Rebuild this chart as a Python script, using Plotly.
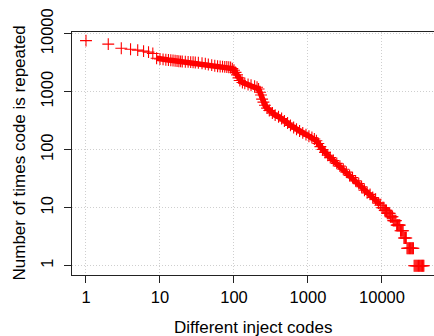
import plotly.graph_objects as go

# Head of the rank-frequency curve (distinct markers)
ranks_head = [1, 2, 3, 4, 5, 6, 7, 8]
counts_head = [7600, 6600, 5600, 5400, 5200, 5000, 4800, 4550]

# Dense body of the curve
ranks_body = [9, 10, 11, 12, 13, 14, 15, 16, 17, 18, 19, 20, 22, 24, 26, 28, 30, 33, 37, 41,
              45, 50, 55, 60, 65, 70, 75, 80, 85, 90, 95, 100, 105, 110, 115, 120, 130, 140,
              155, 170, 190, 205, 215, 225, 232, 240, 250, 262, 280, 300, 330, 360, 400, 440,
              480, 530, 580, 640, 700, 770, 850, 940, 1030, 1130, 1220, 1300, 1380, 1470,
              1570, 1700, 1850, 2000, 2200, 2450, 2700, 3000, 3300, 3650, 4000, 4400, 4850,
              5300, 5800, 6300, 6900, 7500, 8200, 9000, 9500]
counts_body = [3780, 3650, 3600, 3560, 3520, 3480, 3440, 3410, 3380, 3350, 3330, 3310, 3280,
               3260, 3240, 3210, 3190, 3150, 3090, 3030, 2950, 2870, 2800, 2750, 2720, 2700,
               2680, 2660, 2640, 2610, 2500, 2340, 2150, 1950, 1730, 1560, 1440, 1390, 1330,
               1290, 1240, 1190, 1110, 980, 875, 745, 660, 585, 520, 475, 430, 395, 370, 345,
               312, 288, 263, 241, 225, 210, 195, 182, 171, 162, 153, 143, 128, 113, 101, 90,
               80, 73, 65, 58, 52, 46, 41, 36, 33, 29, 26, 23, 20, 18, 17, 15, 14, 12, 11]

# Tail: codes repeated only a few times
ranks_tail = [10000, 10300, 10600,
              10900, 11200, 11500,
              11800, 12100, 12400, 12700,
              13000, 13300, 13600, 13900,
              14200, 14600, 15000, 15400,
              15800, 16200, 16600, 17000, 17400,
              17800, 18300, 18800, 19300,
              19800, 20300, 20800, 21300,
              21800, 22400, 23000, 23600, 24200, 24800, 25400, 26000, 26600,
              27200, 28000, 28800, 29600, 30400, 31200, 32000, 32800, 33600, 34400,
              35200, 36000, 36800]
counts_tail = [10, 10, 10,
               9, 9, 9,
               8, 8, 8, 8,
               7, 7, 7, 7,
               6, 6, 6, 6,
               5, 5, 5, 5, 5,
               4, 4, 4, 4,
               3, 3, 3, 3,
               2, 2, 2, 2, 2, 2, 2, 2, 2,
               1, 1, 1, 1, 1, 1, 1, 1, 1, 1,
               1, 1, 1]

tick_vals = [1, 10, 100, 1000, 10000]
tick_text = ["1", "10", "100", "1000", "10000"]

RED = "#ff0000"
FONT = "Liberation Sans, Arial, Helvetica, sans-serif"
marker = dict(symbol="cross-thin", size=8.5, line=dict(color=RED, width=1.1), color=RED)

fig = go.Figure()
fig.add_trace(go.Scatter(x=ranks_body, y=counts_body, mode="lines",
                         line=dict(color=RED, width=5.5), hoverinfo="skip", showlegend=False))
fig.add_trace(go.Scatter(x=ranks_head + ranks_body + ranks_tail,
                         y=counts_head + counts_body + counts_tail,
                         mode="markers", marker=marker, showlegend=False))

axis_common = dict(
    type="log",
    tickmode="array",
    tickvals=tick_vals,
    ticktext=tick_text,
    ticks="outside",
    ticklen=7,
    tickwidth=1,
    tickcolor="#222",
    showline=True,
    linecolor="#222",
    linewidth=1.2,
    showgrid=True,
    gridcolor="#cfcfcf",
    griddash="1px,2px",
    gridwidth=1,
    zeroline=False,
    tickfont=dict(family=FONT, size=16.5, color="black"),
)

fig.update_xaxes(**axis_common, range=[-0.189, 4.703], mirror=True)
fig.update_yaxes(**axis_common, range=[-0.160, 4.029], tickangle=-90, ticklabelstandoff=4)

fig.add_annotation(text="Different inject codes", xref="paper", yref="paper",
                   x=0.5, y=0, xanchor="center", yanchor="middle", yshift=-52,
                   showarrow=False, font=dict(family=FONT, size=17, color="black"))
fig.add_annotation(text="Number of times code is repeated", xref="paper", yref="paper",
                   x=0, y=0.5, xanchor="center", yanchor="middle", xshift=-53,
                   textangle=-90, showarrow=False,
                   font=dict(family=FONT, size=17, color="black"))

fig.update_layout(
    width=434, height=336,
    margin=dict(l=72, r=0, t=32, b=61),
    plot_bgcolor="white", paper_bgcolor="white",
    font=dict(family=FONT, color="black"),
)

fig.write_html("out.html", config={"displayModeBar": False},
               post_script="document.body.style.margin='0px';document.body.style.padding='0px';")
